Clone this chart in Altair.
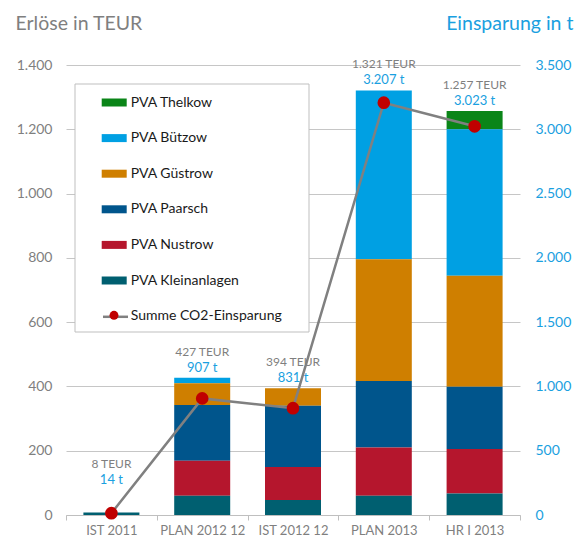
import altair as alt
import pandas as pd

# ---------------- data ----------------
cats = ["IST 2011", "PLAN 2012 12", "IST 2012 12", "PLAN 2013", "HR I 2013"]
series_names = ["PVA Thelkow", "PVA Bützow", "PVA Güstrow", "PVA Paarsch", "PVA Nustrow", "PVA Kleinanlagen"]
thelkow = [0, 0, 0, 0, 57]
buetzow = [0, 17, 0, 525, 456]
guestrow = [0, 68, 54, 379, 345]
paarsch = [0, 173, 191, 207, 194]
nustrow = [0, 109, 102, 150, 138]
kleinanlagen = [8, 60, 47, 60, 67]
totals_teur = [8, 427, 394, 1321, 1257]
co2_t = [14, 907, 831, 3207, 3023]
line_name = "Summe CO2-Einsparung"
left_ticks = [0, 200, 400, 600, 800, 1000, 1200, 1400]
right_ticks = [0, 500, 1000, 1500, 2000, 2500, 3000, 3500]

# ---------------- styles ----------------
FONT = "Lato"
GRAY = "#7f7f7f"
BLUE = "#1aa0e0"
LINEGRAY = "#808080"
RED = "#c00000"
bar_colors = ["#0a8518", "#00a0e3", "#cf7f00", "#00558c", "#b5162d", "#005f70"]

def de(n):
    return f"{n:,}".replace(",", ".")

values_by_series = [thelkow, buetzow, guestrow, paarsch, nustrow, kleinanlagen]
rows = []
for si, (name, vals) in enumerate(zip(series_names, values_by_series)):
    for c, v in zip(cats, vals):
        if v > 0:
            rows.append({"cat": c, "series": name, "value": v,
                         "stack_idx": len(series_names) - 1 - si})
df_bars = pd.DataFrame(rows)

df_lab = pd.DataFrame({
    "cat": cats,
    "total": totals_teur,
    "teur_label": [de(v) + " TEUR" for v in totals_teur],
    "t_label": [de(v) + " t" for v in co2_t],
})

df_co2 = pd.DataFrame({"cat": cats, "co2": co2_t, "lname": line_name, "dot": line_name})

num_expr = "replace(format(datum.value, ','), ',', '.')"

x_enc = alt.X(
    "cat:N", sort=cats,
    scale=alt.Scale(paddingInner=0, paddingOuter=0),
    axis=alt.Axis(title=None, labelAngle=0, tickBand="extent", domainColor="#bfbfbf",
                  tickColor="#bfbfbf", tickSize=5, labelColor=GRAY, labelFont=FONT,
                  labelFontSize=13, labelPadding=4, grid=False),
)

left_scale = alt.Scale(domain=[0, 1400], nice=False)
right_scale = alt.Scale(domain=[0, 3500], nice=False)

rect_path = "M-1,-0.32H1V0.32H-1Z"

# legend frame (layout decoration)
legend_frame = alt.Chart(pd.DataFrame({"k": [0]})).mark_rect(
    fill="white", stroke="#bfbfbf", strokeWidth=1
).encode(x=alt.value(9), x2=alt.value(243), y=alt.value(19), y2=alt.value(267))

bars = alt.Chart(df_bars).mark_bar(size=56).encode(
    x=x_enc,
    y=alt.Y("value:Q", stack="zero", scale=left_scale,
            axis=alt.Axis(values=left_ticks, labelExpr=num_expr, title="Erlöse in TEUR",
                          titleAngle=0, titleAlign="left", titleBaseline="alphabetic",
                          titleX=-51, titleY=-36, titleFont=FONT, titleFontSize=19.5,
                          titleFontWeight="normal", titleColor=GRAY,
                          labelColor=GRAY, labelFont=FONT, labelFontSize=14, labelPadding=14,
                          ticks=False, domain=False, grid=True, gridColor="#c6c6c6")),
    color=alt.Color(
        "series:N",
        scale=alt.Scale(domain=series_names + [line_name], range=bar_colors + ["transparent"]),
        legend=alt.Legend(
            title=None, orient="none", legendX=9, legendY=19, padding=6,
            symbolOffset=20.7, symbolSize=625, symbolType=rect_path, symbolStrokeWidth=0,
            symbolOpacity=1,
            labelFont=FONT, labelFontSize=14, labelColor="#1a1a1a", labelOffset=4,
            rowPadding=15.6, zindex=1,
        ),
    ),
    order=alt.Order("stack_idx:Q", sort="ascending"),
)

lab_base = alt.Chart(df_lab).transform_calculate(anchor="max(datum.total, 78)")
teur_text = lab_base.mark_text(dy=-26, color=GRAY, font=FONT, fontSize=12, baseline="middle").encode(
    x=x_enc, y=alt.Y("anchor:Q", scale=left_scale), text="teur_label:N")
t_text = lab_base.mark_text(dy=-10, color=BLUE, font=FONT, fontSize=13, baseline="middle").encode(
    x=x_enc, y=alt.Y("anchor:Q", scale=left_scale), text="t_label:N")

line = alt.Chart(df_co2).mark_line(strokeWidth=2.5).encode(
    x=x_enc,
    y=alt.Y("co2:Q", scale=right_scale,
            axis=alt.Axis(orient="right", values=right_ticks, labelExpr=num_expr,
                          title="Einsparung in t", titleAngle=0, titleAlign="right",
                          titleBaseline="alphabetic", titleX=53, titleY=-36, titleFont=FONT,
                          titleFontSize=19.5, titleFontWeight="normal", titleColor=BLUE,
                          labelColor=BLUE, labelFont=FONT, labelFontSize=14, labelPadding=15,
                          ticks=False, domain=False, grid=False)),
    stroke=alt.Stroke("lname:N", scale=alt.Scale(range=[LINEGRAY]),
                      legend=alt.Legend(title=None, orient="none", legendX=35.5, legendY=237.8,
                                        padding=0, symbolType="stroke", symbolSize=625,
                                        symbolStrokeWidth=2.5, labelExpr="''", labelFontSize=1,
                                        zindex=2)),
)

points = alt.Chart(df_co2).mark_circle(size=160, opacity=1).encode(
    x=x_enc,
    y=alt.Y("co2:Q", scale=right_scale),
    fill=alt.Fill("dot:N", scale=alt.Scale(range=[RED]),
                  legend=alt.Legend(title=None, orient="none", legendX=43.5, legendY=245.8,
                                    padding=0, symbolType="circle", symbolSize=80,
                                    symbolStrokeWidth=0, symbolOpacity=1,
                                    labelExpr="''", labelFontSize=1, zindex=3)),
)

left = alt.layer(legend_frame, bars, teur_text, t_text)
right = alt.layer(line, points)

chart = alt.layer(left, right).resolve_scale(y="independent").properties(
    width=454, height=450,
    padding={"left": 58, "top": 57, "right": 55, "bottom": 23},
    autosize=alt.AutoSizeParams(type="none"),
).configure_view(stroke=None)

chart.save("out.html", embed_options={"renderer": "svg", "actions": False})
